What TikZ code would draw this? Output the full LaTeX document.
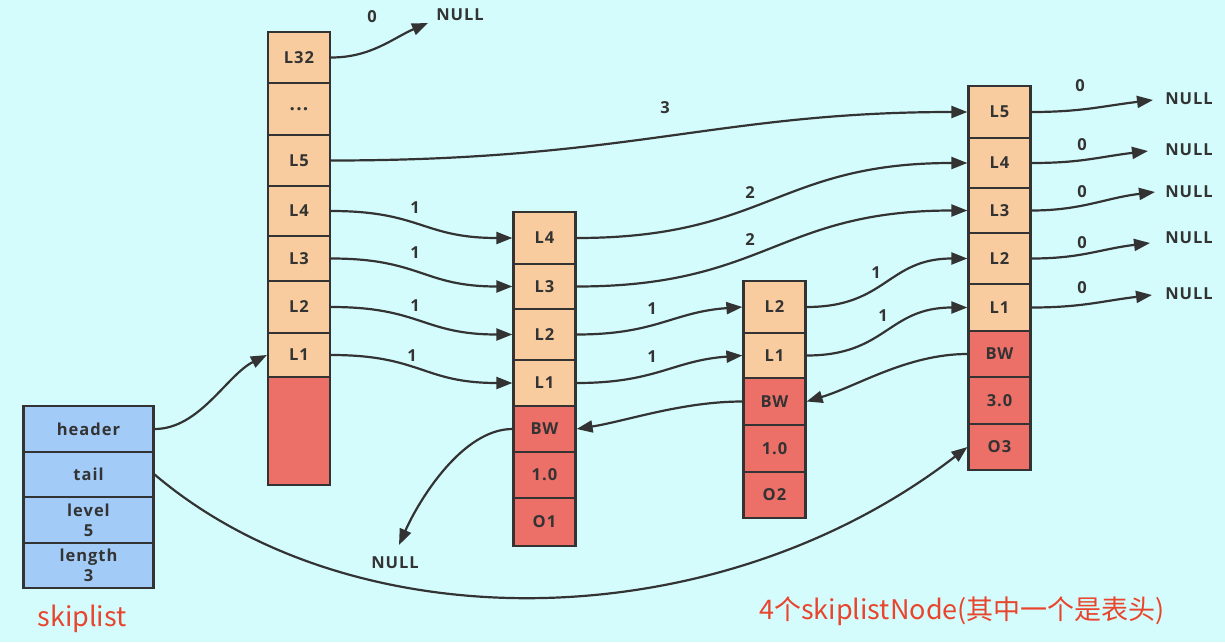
\documentclass[tikz,border=0pt]{standalone}
\usepackage{fontspec}
\setmainfont{Open Sans}[LetterSpace=6]
\newfontfamily\cjk{Noto Sans CJK SC}
\usetikzlibrary{arrows.meta}
\definecolor{bgc}{HTML}{D4FCFC}
\definecolor{ink}{HTML}{333333}
\definecolor{orng}{HTML}{F8CC9F}
\definecolor{redc}{HTML}{EC6F68}
\definecolor{bluc}{HTML}{A3CBF8}
\definecolor{capred}{HTML}{E9452E}
\tikzset{
  cell/.style={draw=ink, line width=2.2pt, minimum width=62pt, inner sep=0pt,
    font=\fontsize{16.5}{20}\selectfont\bfseries, text=ink, align=center},
  lvl/.style={cell, fill=orng},
  dat/.style={cell, fill=redc},
  sk/.style={cell, fill=bluc, minimum width=130pt},
  lnk/.style={draw=ink, line width=2.2pt, -{Triangle[length=16pt,width=12pt]}},
  lbl/.style={font=\fontsize{16.5}{18}\selectfont\bfseries, text=ink, inner sep=0pt},
  capt/.style={font=\cjk\fontsize{27}{30}\selectfont, text=capred, inner sep=0pt},
}
\begin{document}
\begin{tikzpicture}[x=1pt,y=-1pt]
\fill[bgc] (0,0) rectangle (1225,642);
\useasboundingbox (0,0) rectangle (1225,642);

% skiplist
\node[sk, minimum height=46pt] (sh) at (88.5,429) {header};
\node[sk, minimum height=45pt] (st) at (88.5,474.5) {tail};
\node[sk, minimum height=46pt] (sl) at (88.5,520) {level\\5};
\node[sk, minimum height=45pt] (sn) at (88.5,565.5) {length\\3};
\node[capt] (skl) at (82,619) {skiplist};

% header column
\node[lvl, minimum height=51pt] (h32) at (299,57.5) {L32};
\node[lvl, minimum height=52pt] (hd) at (299,109) {{\fontsize{19}{19}\selectfont...}};
\node[lvl, minimum height=51pt] (h5) at (299,160.5) {L5};
\node[lvl, minimum height=50pt] (h4) at (299,211) {L4};
\node[lvl, minimum height=45pt] (h3) at (299,258.5) {L3};
\node[lvl, minimum height=52pt] (h2) at (299,307) {L2};
\node[lvl, minimum height=44pt] (h1) at (299,355) {L1};
\node[dat, minimum height=108pt] (hr) at (299,431) {};

% node 1
\node[lvl, minimum height=52pt] (a4) at (544.5,238) {L4};
\node[lvl, minimum height=45pt] (a3) at (544.5,286.5) {L3};
\node[lvl, minimum height=51pt] (a2) at (544.5,334.5) {L2};
\node[lvl, minimum height=46pt] (a1) at (544.5,383) {L1};
\node[dat, minimum height=46pt] (abw) at (544.5,429) {BW};
\node[dat, minimum height=46pt] (asc) at (544.5,475) {1.0};
\node[dat, minimum height=48pt] (aob) at (544.5,522) {O1};

% node 2
\node[lvl, minimum height=52pt] (b2) at (774.5,307) {L2};
\node[lvl, minimum height=45pt] (b1) at (774.5,355.5) {L1};
\node[dat, minimum height=47pt] (bbw) at (774.5,401.5) {BW};
\node[dat, minimum height=47pt] (bsc) at (774.5,448.5) {1.0};
\node[dat, minimum height=46pt] (bob) at (774.5,495) {O2};

% node 3
\node[lvl, minimum height=52pt] (c5) at (999.5,112) {L5};
\node[lvl, minimum height=50pt] (c4) at (999.5,163) {L4};
\node[lvl, minimum height=45pt] (c3) at (999.5,210.5) {L3};
\node[lvl, minimum height=51pt] (c2) at (999.5,258.5) {L2};
\node[lvl, minimum height=47pt] (c1) at (999.5,307.5) {L1};
\node[dat, minimum height=46pt] (cbw) at (999.5,354) {BW};
\node[dat, minimum height=47pt] (csc) at (999.5,400.5) {3.0};
\node[dat, minimum height=46pt] (cob) at (999.5,447) {O3};

% NULL labels
\node[lbl] (n0) at (460,15) {NULL};
\node[lbl] (nb) at (395,563) {NULL};
\node[lbl] (r5) at (1189,99) {NULL};
\node[lbl] (r4) at (1189,150) {NULL};
\node[lbl] (r3) at (1189,192) {NULL};
\node[lbl] (r2) at (1189,238) {NULL};
\node[lbl] (r1) at (1189,294) {NULL};
\coordinate (n0e) at (428,23);
\coordinate (nbe) at (399,545);
\coordinate (r5e) at (1153,100);
\coordinate (r4e) at (1148,151);
\coordinate (r3e) at (1155,192);
\coordinate (r2e) at (1150,243);
\coordinate (r1e) at (1152,295);

% span labels
\node[lbl] (w0) at (372,17) {0};
\node[lbl] (w3) at (665,108) {3};
\node[lbl] (wa4) at (415,208) {1};
\node[lbl] (wa3) at (415,253) {1};
\node[lbl] (wa2) at (415,306) {1};
\node[lbl] (wa1) at (412,356) {1};
\node[lbl] (wc4) at (750,193) {2};
\node[lbl] (wc3) at (750,240) {2};
\node[lbl] (wb2) at (652,309) {1};
\node[lbl] (wb1) at (652,357) {1};
\node[lbl] (wd2) at (876,273) {1};
\node[lbl] (wd1) at (883,316) {1};
\node[lbl] (z5) at (1080,86) {0};
\node[lbl] (z4) at (1082,145) {0};
\node[lbl] (z3) at (1082,192) {0};
\node[lbl] (z2) at (1082,243) {0};
\node[lbl] (z1) at (1082,288) {0};

% connectors
\draw[lnk] (h32.east) .. controls +(40,0) and +(-35,15) .. (n0e);
\draw[lnk] (h5.east) .. controls +(300,0) and +(-250,0) .. (c5.west);
\draw[lnk] (h4.east) .. controls +(90,0) and +(-90,0) .. (a4.west);
\draw[lnk] (h3.east) .. controls +(90,0) and +(-90,0) .. (a3.west);
\draw[lnk] (h2.east) .. controls +(90,0) and +(-90,0) .. (a2.west);
\draw[lnk] (h1.east) .. controls +(90,0) and +(-90,0) .. (a1.west);
\draw[lnk] (a4.east) .. controls +(190,0) and +(-190,0) .. (c4.west);
\draw[lnk] (a3.east) .. controls +(190,0) and +(-190,0) .. (c3.west);
\draw[lnk] (a2.east) .. controls +(80,0) and +(-70,5) .. (b2.west);
\draw[lnk] (a1.east) .. controls +(80,0) and +(-70,5) .. (b1.west);
\draw[lnk] (b2.east) .. controls +(80,0) and +(-80,0) .. (c2.west);
\draw[lnk] (b1.east) .. controls +(80,0) and +(-80,0) .. (c1.west);
\draw[lnk] (cbw.west) .. controls +(-60,0) and +(50,-15) .. (bbw.east);
\draw[lnk] (bbw.west) .. controls +(-60,0) and +(50,-8) .. (abw.east);
\draw[lnk] (abw.west) .. controls +(-50,0) and +(20,-45) .. (nbe);
\draw[lnk] (sh.east) .. controls +(45,0) and +(-40,20) .. (h1.west);
\draw[lnk] (st.east) .. controls +(200,170) and +(-250,193) .. (cob.west);
\draw[lnk] (c5.east) .. controls +(50,0) and +(-50,6) .. (r5e);
\draw[lnk] (c4.east) .. controls +(50,0) and +(-50,6) .. (r4e);
\draw[lnk] (c3.east) .. controls +(50,0) and +(-50,6) .. (r3e);
\draw[lnk] (c2.east) .. controls +(50,0) and +(-50,6) .. (r2e);
\draw[lnk] (c1.east) .. controls +(50,0) and +(-50,6) .. (r1e);

\node[capt] (cap) at (962,611) {4个skiplistNode(其中一个是表头)};
\end{tikzpicture}
\end{document}
